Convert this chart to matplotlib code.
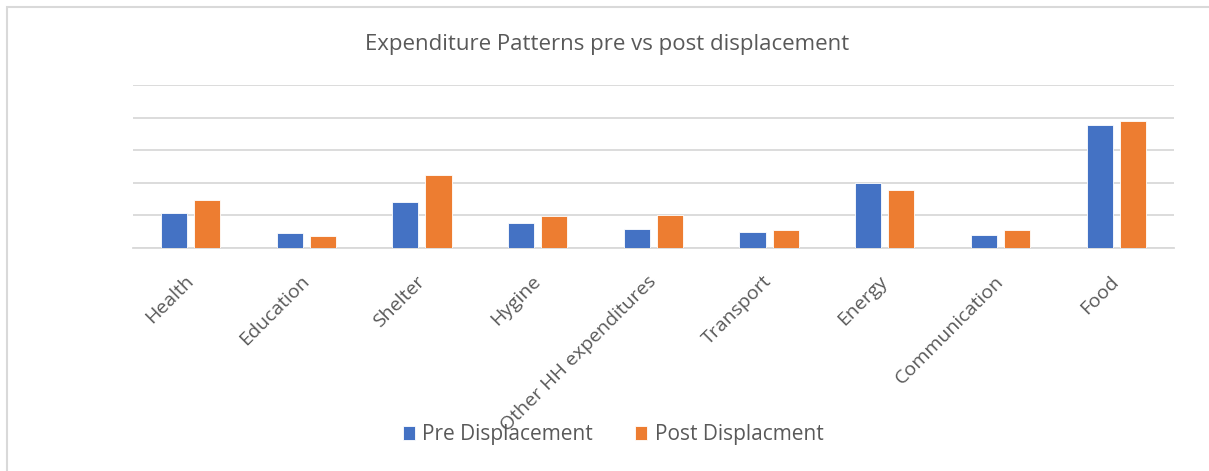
import matplotlib.pyplot as plt
import numpy as np
from matplotlib.patches import Rectangle

categories = ["Health", "Education", "Shelter", "Hygine", "Other HH expenditures",
              "Transport", "Energy", "Communication", "Food"]
pre_displacement = [1.07, 0.45, 1.41, 0.77, 0.58, 0.48, 1.99, 0.41, 3.78]
post_displacement = [1.46, 0.36, 2.25, 0.99, 1.01, 0.56, 1.78, 0.54, 3.90]

blue = "#4472c4"
orange = "#ed7d31"
grey_text = "#595959"

plt.rcParams['font.family'] = ['Open Sans', 'DejaVu Sans']

fig = plt.figure(figsize=(12.09, 4.71), dpi=100)
ax = fig.add_axes([0.1098, 0.4735, 0.8612, 0.346])

x = np.arange(len(categories))
w = 0.225
ax.bar(x - 0.143, pre_displacement, w, color=blue, edgecolor="white", linewidth=0.6,
       label="Pre Displacement", zorder=3)
ax.bar(x + 0.143, post_displacement, w, color=orange, edgecolor="white", linewidth=0.6,
       label="Post Displacment", zorder=3)

ax.set_xlim(-0.5, len(categories) - 0.5)
ax.set_ylim(0, 5)
ax.set_yticks(np.arange(0, 6, 1))
ax.yaxis.grid(True, color="#d9d9d9", linewidth=1.3)
ax.set_axisbelow(True)
ax.tick_params(axis="y", left=False, labelleft=False)
ax.tick_params(axis="x", length=0, pad=22)
for s in ["top", "right", "left"]:
    ax.spines[s].set_visible(False)
ax.spines["bottom"].set_color("#d9d9d9")
ax.spines["bottom"].set_linewidth(1.3)

ax.set_xticks(x)
ax.set_xticklabels(categories, rotation=45, ha="right", va="center",
                   rotation_mode="anchor", fontsize=14, color=grey_text)

fig.text(0.502, 0.905, "Expenditure Patterns pre vs post displacement",
         ha="center", va="center", fontsize=16, color=grey_text)

leg = fig.legend(loc="center", bbox_to_anchor=(0.507, 0.077), ncol=2, frameon=False,
                 fontsize=15, handlelength=0.6, handleheight=0.6, columnspacing=2.0,
                 handletextpad=0.35)
for t in leg.get_texts():
    t.set_color(grey_text)

fig.patches.append(Rectangle((7 / 1209, -0.1), 1.2, 1 - 7 / 471 + 0.1,
                             transform=fig.transFigure, fill=False,
                             edgecolor="#d9d9d9", linewidth=1.5, zorder=0))

fig.savefig("out.png", dpi=100)
